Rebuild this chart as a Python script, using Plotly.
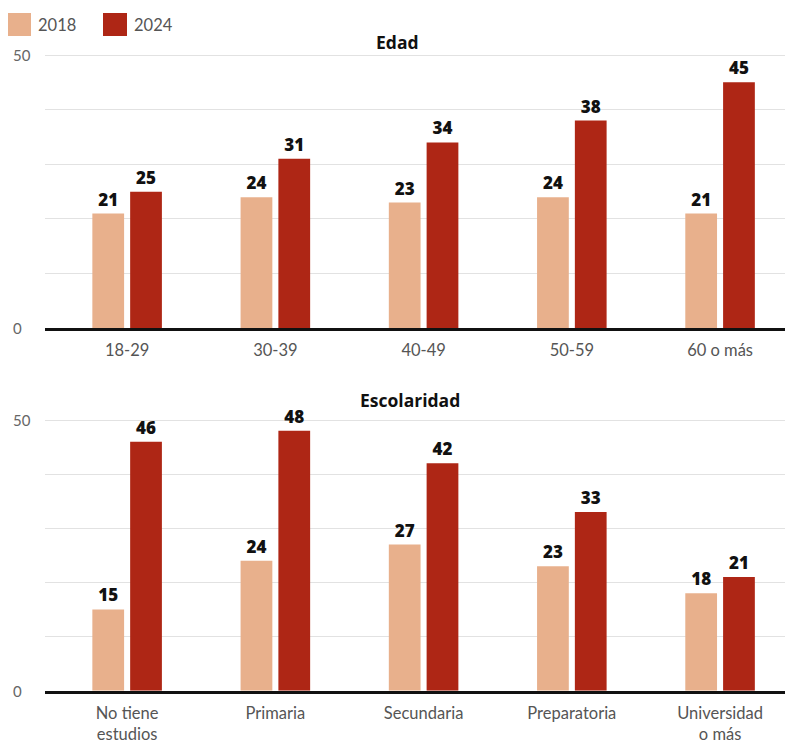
import plotly.graph_objects as go

# page has an 8px body margin: the figure starts at (8, 8)
OX, OY = 8, 8
W, H = 793 - OX, 751 - OY

edad_cats = ["18-29", "30-39", "40-49", "50-59", "60 o más"]
edad_2018 = [21, 24, 23, 24, 21]
edad_2024 = [25, 31, 34, 38, 45]

esc_cats = ["No tiene<br>estudios", "Primaria", "Secundaria", "Preparatoria", "Universidad<br>o más"]
esc_2018 = [15, 24, 27, 23, 18]
esc_2024 = [46, 48, 42, 33, 21]

series_names = ["2018", "2024"]
colors = ["#E8B08C", "#AE2615"]

y_ticks = [0, 50]


def px(x):
    return (x - OX) / W


def py(y):
    return 1 - (y - OY) / H


LABEL_FONT = dict(family="Open Sans", size=17, color="#111111", weight=800)
TICK_FONT = dict(family="Lato", size=16.5, color="#555555")

fig = go.Figure()


def add_pair(cats, v18, v24, xa, ya):
    for name, vals, col in zip(series_names, [v18, v24], colors):
        fig.add_trace(go.Bar(
            x=cats, y=vals, name=name, marker=dict(color=col, line=dict(width=0)),
            text=[str(v) for v in vals], textposition="outside",
            textfont=LABEL_FONT, cliponaxis=False,
            xaxis=xa, yaxis=ya, showlegend=False,
        ))


add_pair(edad_cats, edad_2018, edad_2024, "x", "y")
add_pair(esc_cats, esc_2018, esc_2024, "x2", "y2")

xr = [-0.554, 4.492]
xcommon = dict(range=xr, showgrid=False, showline=True, linecolor="#111111", linewidth=3,
               tickfont=TICK_FONT, ticks="outside", ticklen=5, tickcolor="rgba(0,0,0,0)",
               zeroline=False, fixedrange=True)
ycommon = dict(range=[0, 50.5], tickvals=[10, 20, 30, 40, 50], showticklabels=False,
               showgrid=True, gridcolor="#E2E2E2", gridwidth=1, zeroline=False,
               showline=False, fixedrange=True)

fig.update_layout(
    width=W, height=H,
    margin=dict(l=0, r=0, t=0, b=0),
    paper_bgcolor="white", plot_bgcolor="white",
    barmode="group", bargap=0.49, bargroupgap=0.16,
    showlegend=False,
    font=dict(family="Lato"),
    xaxis=dict(domain=[px(45), 1], anchor="y", **xcommon),
    yaxis=dict(domain=[py(328.3), py(52.3)], anchor="x", **ycommon),
    xaxis2=dict(domain=[px(45), 1], anchor="y2", **xcommon),
    yaxis2=dict(domain=[py(690.7), py(417.3)], anchor="x2", **ycommon),
)

annotations = []
for yref in ["y", "y2"]:
    for t in y_ticks:
        annotations.append(dict(x=px(11), xref="paper", y=t, yref=yref, text=str(t),
                                showarrow=False, xanchor="left", yanchor="middle",
                                font=dict(family="Lato", size=15, color="#666666")))

annotations.append(dict(x=px(397), y=py(42), xref="paper", yref="paper", text="Edad",
                        showarrow=False, xanchor="center", yanchor="middle",
                        font=dict(family="Open Sans", size=17.5, color="#111111", weight=700)))
annotations.append(dict(x=px(410), y=py(400), xref="paper", yref="paper", text="Escolaridad",
                        showarrow=False, xanchor="center", yanchor="middle",
                        font=dict(family="Open Sans", size=17.5, color="#111111", weight=700)))

# legend
legend_items = [(8, 31, 36, series_names[0], colors[0]), (103, 127, 132, series_names[1], colors[1])]
shapes = []
for x0, x1, tx, name, col in legend_items:
    shapes.append(dict(type="rect", xref="paper", yref="paper", x0=px(x0), x1=px(x1),
                       y0=py(36), y1=py(13), fillcolor=col, line=dict(width=0)))
    annotations.append(dict(x=px(tx), y=py(25), xref="paper", yref="paper", text=name,
                            showarrow=False, xanchor="left", yanchor="middle",
                            font=dict(family="Lato", size=16.5, color="#555555")))

fig.update_layout(annotations=annotations, shapes=shapes)

fig.write_html("out.html")
